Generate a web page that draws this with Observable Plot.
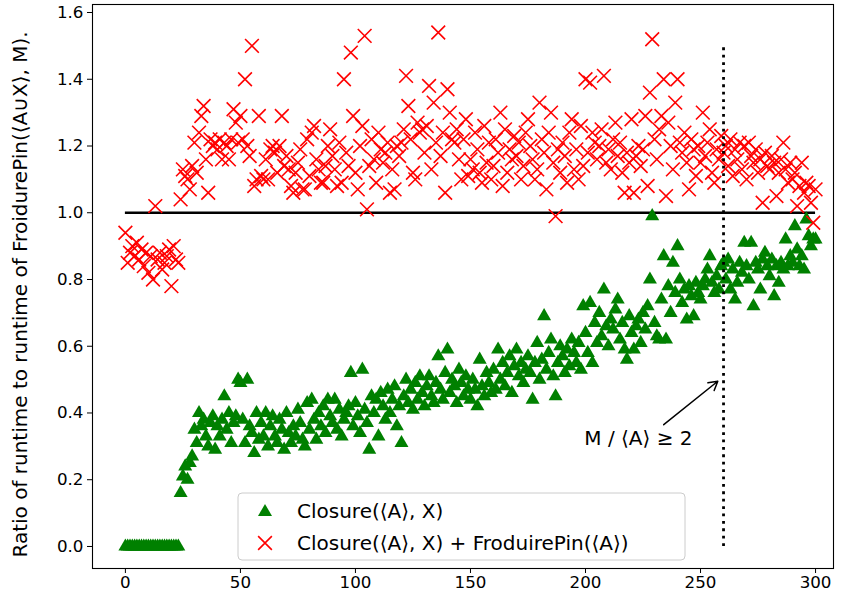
<!DOCTYPE html>
<html><head><meta charset="utf-8">
<script src="https://cdn.jsdelivr.net/npm/d3@7"></script>
<script src="https://cdn.jsdelivr.net/npm/@observablehq/plot@0.6"></script>
<style>
body{margin:0;background:#fff;font-family:"DejaVu Sans",sans-serif}
#chart{position:relative;width:848px;height:613px}
</style>
</head><body><div id="chart"></div>
<script>
// ---- data ----
const runs = d3.range(0, 301); // run index 0..300

const closureRatio = [
  0,0,0,0,0,0,0,0,0,0,
  0,0,0,0,0,0,0,0,0,0,
  0,0,0,0,0.16,0.21,0.24,0.20,0.25,0.27,
  0.35,0.31,0.40,0.36,0.38,0.33,0.30,0.37,0.39,0.29,
  0.36,0.33,0.38,0.45,0.35,0.40,0.31,0.37,0.39,0.50,
  0.49,0.38,0.31,0.50,0.36,0.34,0.28,0.40,0.32,0.37,
  0.33,0.40,0.30,0.36,0.39,0.33,0.31,0.38,0.35,0.29,
  0.40,0.34,0.31,0.36,0.33,0.41,0.37,0.32,0.30,0.43,
  0.35,0.44,0.38,0.32,0.40,0.36,0.42,0.34,0.44,0.39,
  0.37,0.44,0.35,0.41,0.33,0.38,0.40,0.42,0.52,0.36,
  0.43,0.39,0.34,0.53,0.41,0.37,0.29,0.45,0.40,0.44,
  0.33,0.46,0.42,0.38,0.47,0.40,0.44,0.48,0.36,0.42,
  0.31,0.45,0.50,0.43,0.47,0.41,0.49,0.44,0.51,0.46,
  0.42,0.48,0.51,0.45,0.43,0.49,0.57,0.47,0.44,0.52,
  0.59,0.46,0.50,0.48,0.43,0.53,0.49,0.45,0.51,0.47,
  0.44,0.50,0.47,0.42,0.56,0.48,0.45,0.52,0.49,0.46,
  0.53,0.47,0.59,0.50,0.55,0.48,0.52,0.57,0.46,0.54,
  0.59,0.51,0.55,0.49,0.53,0.57,0.52,0.44,0.55,0.61,
  0.50,0.56,0.69,0.53,0.58,0.62,0.51,0.45,0.55,0.60,
  0.57,0.52,0.59,0.54,0.62,0.58,0.55,0.61,0.53,0.72,
  0.64,0.58,0.73,0.55,0.67,0.61,0.70,0.63,0.77,0.66,
  0.60,0.68,0.65,0.71,0.74,0.62,0.67,0.59,0.56,0.69,
  0.64,0.59,0.66,0.68,0.61,0.70,0.65,0.72,0.80,0.99,
  0.67,0.63,0.62,0.74,0.87,0.62,0.78,0.70,0.85,0.76,
  0.90,0.80,0.73,0.77,0.68,0.78,0.75,0.69,0.79,0.76,
  0.74,0.78,0.80,0.83,0.87,0.79,0.76,0.81,0.77,0.84,
  0.85,0.80,0.86,0.77,0.83,0.74,0.79,0.85,0.82,0.91,
  0.84,0.80,0.91,0.72,0.85,0.83,0.77,0.86,0.88,0.84,
  0.81,0.86,0.75,0.84,0.79,0.85,0.83,0.92,0.84,0.87,
  0.85,0.96,0.89,0.84,0.87,0.83,0.98,0.93,0.90,0.92,
  0.92
];

const closurePlusFPRatio = [
  0.94,0.85,0.88,0.90,0.87,0.91,0.86,0.89,0.84,0.88,
  0.82,0.87,0.80,1.02,0.86,0.88,0.83,0.85,0.87,0.89,
  0.78,0.90,0.86,0.85,1.04,1.13,1.11,1.10,1.07,1.14,
  1.21,1.12,1.24,1.29,1.32,1.16,1.06,1.22,1.20,1.21,
  1.19,1.22,1.16,1.21,1.20,1.16,1.22,1.31,1.27,1.21,
  1.29,1.22,1.40,1.20,1.17,1.50,1.08,1.10,1.29,1.11,
  1.10,1.16,1.10,1.19,1.20,1.18,1.12,1.20,1.29,1.14,
  1.17,1.13,1.08,1.06,1.12,1.15,1.19,1.07,1.07,1.22,
  1.11,1.24,1.26,1.16,1.13,1.09,1.09,1.14,1.20,1.25,
  1.17,1.13,1.08,1.21,1.09,1.40,1.18,1.14,1.48,1.29,
  1.12,1.07,1.20,1.26,1.53,1.01,1.14,1.22,1.16,1.09,
  1.24,1.19,1.15,1.18,1.21,1.06,1.13,1.07,1.20,1.17,
  1.21,1.25,1.41,1.32,1.22,1.12,1.10,1.27,1.24,1.25,
  1.18,1.26,1.38,1.13,1.33,1.21,1.54,1.17,1.24,1.06,
  1.37,1.30,1.22,1.21,1.25,1.16,1.10,1.22,1.28,1.11,
  1.16,1.13,1.24,1.19,1.12,1.09,1.26,1.15,1.21,1.10,
  1.14,1.22,1.18,1.30,1.08,1.25,1.12,1.19,1.16,1.23,
  1.17,1.21,1.10,1.14,1.24,1.28,1.20,1.16,1.10,1.13,
  1.33,1.22,1.18,1.07,1.24,1.30,1.15,0.99,1.19,1.12,
  1.21,1.17,1.09,1.24,1.28,1.13,1.19,1.10,1.26,1.14,
  1.40,1.18,1.39,1.24,1.21,1.16,1.20,1.25,1.41,1.15,
  1.19,1.13,1.22,1.27,1.17,1.21,1.12,1.06,1.18,1.15,
  1.28,1.06,1.17,1.20,1.14,1.19,1.29,1.08,1.36,1.52,
  1.22,1.16,1.25,1.29,1.40,1.05,1.27,1.20,1.13,1.33,
  1.40,1.21,1.18,1.24,1.15,1.07,1.22,1.19,1.11,1.20,
  1.15,1.30,1.17,1.21,1.25,1.12,1.09,1.19,1.16,1.23,
  1.18,1.20,1.14,1.22,1.11,1.19,1.16,1.21,1.13,1.20,
  1.10,1.21,1.17,1.15,1.19,1.12,1.16,1.03,1.18,1.14,
  1.13,1.17,1.15,1.05,1.12,1.16,1.21,1.13,1.09,1.15,
  1.10,1.12,1.02,1.08,1.15,1.06,1.09,1.08,1.03,0.97,
  1.07
];

const xTicks = [0, 50, 100, 150, 200, 250, 300];
const yTicks = [0.0, 0.2, 0.4, 0.6, 0.8, 1.0, 1.2, 1.4, 1.6];
const seriesNames = ["Closure(\u27E8A\u27E9, X)", "Closure(\u27E8A\u27E9, X) + FroduirePin(\u27E8A\u27E9)"];
const yLabel = "Ratio of runtime to runtime of FroidurePin(\u27E8A\u222AX\u27E9, M).";
const referenceLevel = [{y: 1.0, x1: 0, x2: 300}];
const thresholdRun = [{x: 260, y1: 0, y2: 1.5}];
const annotation = [{text: "M / \u27E8A\u27E9 \u2265 2", x: 223, y: 0.322, ax: 234, ay: 0.365, bx: 257.5, by: 0.495}];

const TICK_FS = 16.7, LABEL_FS = 20;
const green = runs.map((r, i) => ({run: r, v: closureRatio[i]}));
const red = runs.map((r, i) => ({run: r, v: closurePlusFPRatio[i]}));

const chart = Plot.plot({
  width: 848, height: 613,
  marginLeft: 92, marginRight: 15, marginTop: 4, marginBottom: 45,
  style: {fontFamily: "DejaVu Sans, sans-serif", fontSize: TICK_FS + "px", background: "white", color: "black"},
  x: {domain: [-14.3, 307.8]},
  y: {domain: [-0.066, 1.624]},
  marks: [
    Plot.ruleY(referenceLevel, {y: "y", x1: "x1", x2: "x2", stroke: "black", strokeWidth: 2.6}),
    Plot.dot(green, {x: "run", y: "v", symbol: "triangle", r: 5.2, fill: "green", stroke: "none"}),
    Plot.dot(red, {x: "run", y: "v", symbol: "times", r: 6.3, stroke: "red", strokeWidth: 1.6}),
    Plot.ruleX(thresholdRun, {x: "x", y1: "y1", y2: "y2", stroke: "black", strokeWidth: 2.8, strokeDasharray: "2.8,4.6"}),
    Plot.arrow(annotation, {x1: "ax", y1: "ay", x2: "bx", y2: "by", stroke: "black", strokeWidth: 1.5, headLength: 10, bend: 0}),
    Plot.text(annotation, {x: "x", y: "y", text: "text", fontSize: LABEL_FS, fill: "black"}),
    Plot.frame({stroke: "black", strokeWidth: 1.1}),
    Plot.axisX({ticks: xTicks, tickSize: 5, tickPadding: 3, label: null, fontSize: TICK_FS, tickFormat: d3.format("d")}),
    Plot.axisY({ticks: yTicks, tickSize: 5, tickPadding: 4, label: null, fontSize: TICK_FS, tickFormat: d3.format(".1f")}),
    Plot.text([yLabel], {frameAnchor: "left", textAnchor: "middle", rotate: -90, dx: -72, dy: 8, fontSize: LABEL_FS, fill: "black", text: d => d})
  ]
});
const host = document.getElementById("chart");
host.appendChild(chart);

// legend inside the plot area
const leg = d3.select(host).append("svg")
  .attr("width", 452).attr("height", 70)
  .style("position", "absolute").style("left", "237px").style("top", "492px");
leg.append("rect").attr("x", 1).attr("y", 1).attr("width", 447).attr("height", 67)
  .attr("rx", 4).attr("fill", "white").attr("fill-opacity", 0.8).attr("stroke", "#cccccc");
const tri = d3.symbol(d3.symbolTriangle, 5.2 * 5.2 * Math.PI)();
const times = d3.symbol(d3.symbolTimes, 6.3 * 6.3 * Math.PI)();
leg.append("path").attr("d", tri).attr("transform", "translate(28,20)").attr("fill", "green");
leg.append("path").attr("d", times).attr("transform", "translate(28,51)").attr("fill", "none").attr("stroke", "red").attr("stroke-width", 1.6);
leg.selectAll("text.l").data(seriesNames).join("text")
  .attr("x", 60).attr("y", (d, i) => 19 + i * 32).attr("dy", "0.35em")
  .attr("font-family", "DejaVu Sans, sans-serif").attr("font-size", LABEL_FS).attr("fill", "black")
  .text(d => d);
</script></body></html>
